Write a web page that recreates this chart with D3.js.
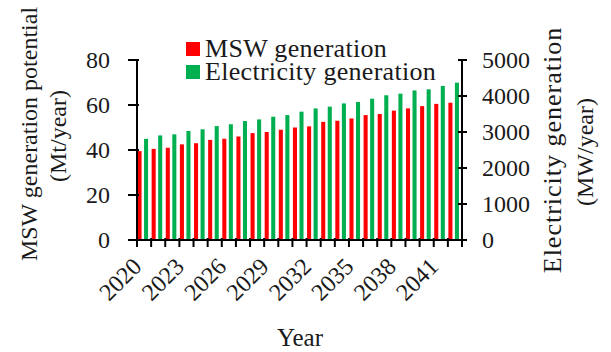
<!DOCTYPE html>
<html>
<head>
<meta charset="utf-8">
<script src="https://cdn.jsdelivr.net/npm/d3@7"></script>
<style>
  html, body { margin: 0; padding: 0; background: #fff; }
  svg { display: block; }
  text { font-family: "Liberation Serif", "Times New Roman", serif; fill: #1a1a1a; }
</style>
</head>
<body>
<svg id="chart" width="611" height="352"></svg>
<script>
// ---- data ----
const years = d3.range(2020, 2043).map(String);
const mswGeneration = [39.5, 40.5, 41, 42.5, 43, 44.5, 45, 46, 47.5, 48, 49, 50, 50.5, 52.5, 53, 54, 55.5, 56, 57.5, 58.5, 59.5, 60.5, 61];
const electricityGeneration = [2810, 2905, 2935, 3030, 3075, 3165, 3215, 3305, 3350, 3425, 3470, 3565, 3655, 3705, 3795, 3835, 3925, 4020, 4065, 4155, 4185, 4280, 4370];
const leftTicks = [0, 20, 40, 60, 80];
const rightTicks = [0, 1000, 2000, 3000, 4000, 5000];
const labelYears = ["2020", "2023", "2026", "2029", "2032", "2035", "2038", "2041"];
const seriesNames = ["MSW generation", "Electricity generation"];
const seriesColors = ["#ff0000", "#00b050"];

// ---- layout ----
const svg = d3.select("#chart");
const plot = { left: 137, right: 462, top: 60, bottom: 240 };

const x = d3.scaleBand().domain(years).range([plot.left, plot.right]).padding(0);
const sub = d3.scaleBand().domain(seriesNames)
  .range([0.5, x.bandwidth() * 0.75 + 0.5]).paddingInner(0.38).paddingOuter(0);
const yL = d3.scaleLinear().domain([0, 80]).range([plot.bottom, plot.top]);
const yR = d3.scaleLinear().domain([0, 5000]).range([plot.bottom, plot.top]);

// bars
svg.append("g").selectAll("rect").data(years).join("rect")
  .attr("x", d => x(d) + sub(seriesNames[0]))
  .attr("width", sub.bandwidth())
  .attr("y", (d, i) => yL(mswGeneration[i]))
  .attr("height", (d, i) => yL(0) - yL(mswGeneration[i]))
  .attr("fill", seriesColors[0]);

svg.append("g").selectAll("rect").data(years).join("rect")
  .attr("x", d => x(d) + sub(seriesNames[1]))
  .attr("width", sub.bandwidth())
  .attr("y", (d, i) => yR(electricityGeneration[i]))
  .attr("height", (d, i) => yR(0) - yR(electricityGeneration[i]))
  .attr("fill", seriesColors[1]);

// axes lines
const ax = svg.append("g").attr("stroke", "#000").attr("stroke-width", 2);
ax.append("line").attr("x1", plot.left).attr("x2", plot.left).attr("y1", yL(80)).attr("y2", yL(0) + 1);
ax.append("line").attr("x1", plot.right).attr("x2", plot.right).attr("y1", yR(5000)).attr("y2", yR(0) + 1);
ax.append("line").attr("x1", plot.left - 1).attr("x2", plot.right + 1).attr("y1", plot.bottom).attr("y2", plot.bottom);

// left ticks
ax.selectAll("line.lt").data(leftTicks).join("line")
  .attr("x1", plot.left - 9).attr("x2", plot.left + 2)
  .attr("y1", d => yL(d)).attr("y2", d => yL(d));
// right ticks
ax.selectAll("line.rt").data(rightTicks).join("line")
  .attr("x1", plot.right - 4).attr("x2", plot.right + 5)
  .attr("y1", d => yR(d)).attr("y2", d => yR(d));
// bottom ticks at band boundaries
const bounds = years.map(d => x(d)).concat([x(years[years.length - 1]) + x.bandwidth()]);
ax.selectAll("line.bt").data(bounds).join("line")
  .attr("x1", d => d).attr("x2", d => d)
  .attr("y1", plot.bottom - 2).attr("y2", plot.bottom + 7);

const fs = 24;
// left tick labels
svg.append("g").selectAll("text").data(leftTicks).join("text")
  .attr("x", plot.left - 27).attr("y", d => yL(d)).attr("dy", "0.34em")
  .attr("text-anchor", "end").attr("font-size", fs).text(d => d);
// right tick labels
svg.append("g").selectAll("text").data(rightTicks).join("text")
  .attr("x", plot.right + 20).attr("y", d => yR(d)).attr("dy", "0.34em")
  .attr("text-anchor", "start").attr("font-size", fs).text(d => d);
// x tick labels
svg.append("g").selectAll("text").data(labelYears).join("text")
  .attr("transform", d => `translate(${x(d) + x.bandwidth() / 2 - 1},${plot.bottom + 28}) rotate(-45)`)
  .attr("text-anchor", "end").attr("font-size", fs).text(d => d);

// axis titles
svg.append("text").attr("x", 300).attr("y", 346).attr("text-anchor", "middle")
  .attr("font-size", 25).text("Year");

const lt = svg.append("g").attr("font-size", fs).attr("text-anchor", "middle");
lt.append("text").attr("transform", "translate(37,134) rotate(-90)").text("MSW generation potential");
lt.append("text").attr("transform", "translate(66,136) rotate(-90)").text("(Mt/year)");

const rt = svg.append("g").attr("text-anchor", "middle");
rt.append("text").attr("transform", "translate(561,150) rotate(-90)")
  .attr("font-size", 26).attr("letter-spacing", 1).text("Electricity generation");
rt.append("text").attr("transform", "translate(593,152) rotate(-90)")
  .attr("font-size", fs).text("(MW/year)");

// legend
const lg = svg.append("g").selectAll("g").data(seriesNames).join("g")
  .attr("transform", (d, i) => `translate(186,${42 + i * 23})`);
lg.append("rect").attr("width", 14).attr("height", 14).attr("fill", (d, i) => seriesColors[i]);
lg.append("text").attr("x", 19).attr("y", 15).attr("font-size", 26)
  .attr("letter-spacing", 0.3).text(d => d);
</script>
</body>
</html>
